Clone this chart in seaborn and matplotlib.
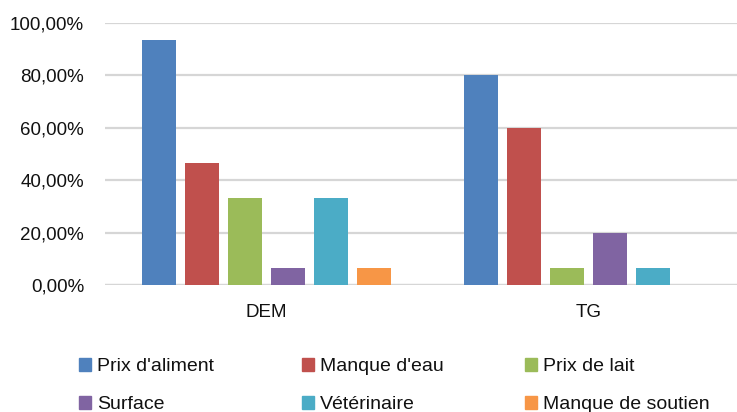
import numpy as np
import pandas as pd
import matplotlib
matplotlib.use("Agg")
import matplotlib.pyplot as plt
import matplotlib.patches as mpatches
from matplotlib.ticker import FuncFormatter
import seaborn as sns

# Share of respondents citing each constraint, per site (%)
sites = ["DEM", "TG"]
causes = ["Prix d'aliment", "Manque d'eau", "Prix de lait",
          "Surface", "Vétérinaire", "Manque de soutien"]
dem_values = [93.33, 46.67, 33.33, 6.67, 33.33, 6.67]
tg_values = [80.00, 60.00, 6.67, 20.00, 6.67, 0.00]
colors = ["#4F81BD", "#C0504D", "#9BBB59", "#8064A2", "#4BACC6", "#F79646"]

df = pd.DataFrame({
    "site": np.repeat(sites, len(causes)),
    "cause": causes * len(sites),
    "value": dem_values + tg_values,
})

sns.set_theme(style="white")
plt.rcParams["font.family"] = ["Liberation Sans", "DejaVu Sans"]
plt.rcParams["text.color"] = "#111111"

W, H = 737, 412
fig = plt.figure(figsize=(W / 100, H / 100), dpi=100)
ax = fig.add_axes([105 / W, (H - 285) / H, (W - 105) / W, (285 - 23) / H])

sns.barplot(data=df, x="site", y="value", hue="cause", order=sites,
            hue_order=causes, palette=colors, saturation=1, width=0.8,
            gap=0.21, linewidth=0, legend=False, ax=ax)

ax.set_ylim(0, 100)
ax.set_xlim(-0.5, -0.5 + (W - 105) / 322.5)
ax.set_yticks(np.arange(0, 101, 20))
ax.yaxis.set_major_formatter(FuncFormatter(lambda v, _: f"{v:.2f}%".replace(".", ",")))
ax.grid(axis="y", color="#d6d6d6", linewidth=1.6)
ax.set_axisbelow(True)
for s in ["top", "right", "left", "bottom"]:
    ax.spines[s].set_visible(False)
ax.axhline(0, color="#d6d6d6", linewidth=1.6, zorder=0.5)
ax.set_xlabel("")
ax.set_ylabel("")
ax.tick_params(axis="y", length=0, pad=15, labelsize=13.5, labelcolor="#111111")
ax.tick_params(axis="x", length=0, pad=14, labelsize=13.5, labelcolor="#111111")

# Legend laid out in three columns, two rows each
col_x = [79, 302, 525]
for c in range(3):
    idx = [c, c + 3]
    handles = [mpatches.Patch(color=colors[i], label=causes[i]) for i in idx]
    fig.legend(handles=handles, loc="upper left",
               bbox_to_anchor=(col_x[c] / W, (H - 358) / H),
               frameon=False, fontsize=14, handlelength=0.63,
               handleheight=0.63, handletextpad=0.3, labelspacing=1.08,
               borderpad=0, borderaxespad=0)

fig.savefig("out.png", dpi=100)
